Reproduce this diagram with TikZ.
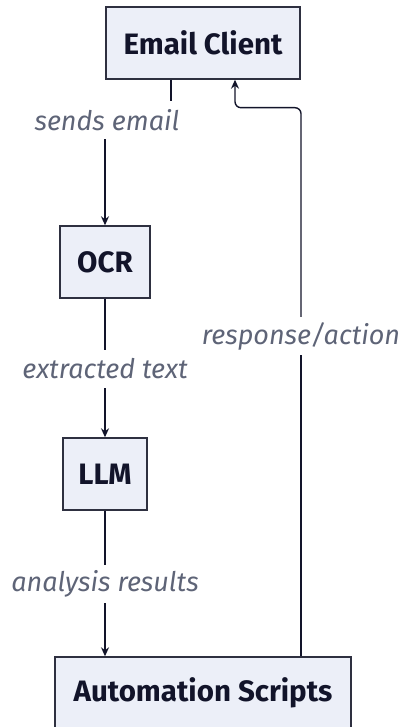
\documentclass[tikz,border=0pt]{standalone}
\usepackage{fontspec}
\setmainfont{Fira Sans}
\usetikzlibrary{arrows.meta}
\definecolor{boxfill}{HTML}{ECEFF8}
\definecolor{boxline}{HTML}{2E3040}
\definecolor{ink}{HTML}{12142A}
\definecolor{lblgray}{HTML}{5E6477}
\tikzset{
  block/.style={draw=boxline, fill=boxfill, line width=1.4pt, text=ink,
    font=\fontsize{29.5}{34}\selectfont\bfseries, minimum height=72pt, inner sep=0pt},
  edgelbl/.style={text=lblgray, font=\fontsize{27}{31}\selectfont\itshape,
    minimum height=38pt, inner sep=0pt},
  flow/.style={draw=ink, line width=1.4pt},
  tip/.style={flow, -{Stealth[length=9pt,width=8pt]}}
}
\begin{document}
\begin{tikzpicture}[x=1pt,y=-1pt]
    \useasboundingbox (0,0) rectangle (403,727);
    %% boxes
    \node[block, minimum width=194pt] (email) at (203,43) {Email Client};
    \node[block, minimum width=90pt] (ocr) at (105,262) {OCR};
    \node[block, minimum width=84pt] (llm) at (105,474) {LLM};
    \node[block, minimum width=296pt] (scripts) at (203,693) {Automation Scripts};
    %% edge labels
    \node[edgelbl] (sends) at (107,120) {sends email};
    \node[edgelbl] (extracted) at (105,369) {extracted text};
    \node[edgelbl] (analysis) at (105,584) {analysis results};
    \node[edgelbl] (respond) at (301,336) {response/action};
    %% forward flow
    \draw[flow] ([xshift=-32pt]email.south) -- ([xshift=-32pt]email.south |- sends.north);
    \draw[tip] (sends.south -| ocr.north) -- (ocr.north);
    \draw[flow] (ocr.south) -- (extracted.north);
    \draw[tip] (extracted.south) -- (llm.north);
    \draw[flow] (llm.south) -- (analysis.north);
    \draw[tip] (analysis.south) -- (analysis.south |- scripts.north);
    %% way back
    \draw[flow] ([xshift=98pt]scripts.north) -- (respond.south);
    \draw[tip, rounded corners=6pt] (respond.north) |- ([xshift=32pt,yshift=-28pt]email.south) -- ([xshift=32pt]email.south);
\end{tikzpicture}
\end{document}
